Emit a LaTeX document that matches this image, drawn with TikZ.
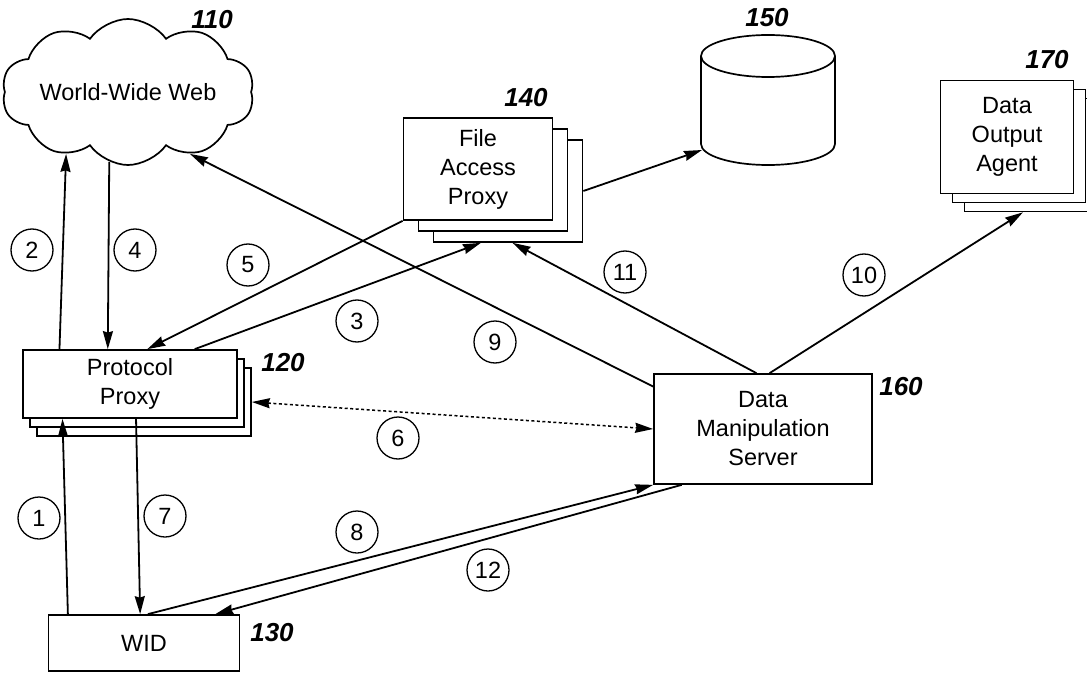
\documentclass[tikz,border=0pt]{standalone}
\usepackage{fontspec}
\setmainfont{Liberation Sans}
\usetikzlibrary{arrows.meta,calc,shadows,shapes.symbols}
\tikzset{%
  BoxStyle/.style={draw,fill=white,line width=1.7pt,align=center,inner sep=0pt},
  Stack/.style n args={4}{BoxStyle,
    copy shadow={shadow xshift=#3,shadow yshift=-#4,draw=black,fill=white,line width=1.7pt},
    copy shadow={shadow xshift=#1,shadow yshift=-#2,draw=black,fill=white,line width=1.7pt}},
  NumStyle/.style={draw,circle,line width=1.3pt,minimum size=42pt,inner sep=0pt},
  RefStyle/.style={font=\fontsize{26}{26}\selectfont\bfseries\itshape},
  Link/.style={line width=1.8pt,-{Stealth[length=18pt,width=10pt,inset=1.5pt]}},
  DotLink/.style={line width=1.5pt,dash pattern=on 3pt off 2.5pt,
    {Stealth[length=18pt,width=10pt,inset=1.5pt]}-{Stealth[length=18pt,width=10pt,inset=1.5pt]}}
}

\begin{document}
\begin{tikzpicture}[x=1pt,y=-1pt,font=\fontsize{23.5}{29}\selectfont]
\useasboundingbox (0,0) rectangle (1087,674);

\node (www) [cloud,draw,line width=1.7pt,cloud puffs=10,cloud puff arc=110,cloud ignores aspect,minimum width=238pt,minimum height=146pt] at (128,92) {World-Wide Web};
\node (pp) [Stack={7pt}{9pt}{14pt}{18pt},minimum width=214pt,minimum height=68pt] at (130,384) {Protocol\\Proxy};
\node (fap) [Stack={15pt}{11pt}{30pt}{22pt},minimum width=149pt,minimum height=102pt] at (478,169) {File\\Access\\Proxy};
\node (doa) [Stack={12pt}{9pt}{24pt}{18pt},minimum width=133pt,minimum height=113pt] at (1007,137) {Data\\Output\\Agent};
\node (dms) [BoxStyle,minimum width=218pt,minimum height=110pt] at (763,429) {Data\\Manipulation\\Server};
\node (wid) [BoxStyle,minimum width=191pt,minimum height=56pt] at (144,643) {WID};

% disk 150
\coordinate (db) at (768,100);
\coordinate (dbin) at (702,150);
\draw [line width=1.7pt] (701,56) -- (701,144) arc [start angle=180,end angle=360,x radius=67pt,y radius=21pt] -- (835,56);
\draw [line width=1.7pt] (768,56) ellipse [x radius=67pt,y radius=21pt];

\node (r110) [RefStyle] at (212,20) {110};
\node (r120) [RefStyle] at (283,363) {120};
\node (r130) [RefStyle] at (272,633) {130};
\node (r140) [RefStyle] at (526,98) {140};
\node (r150) [RefStyle] at (767,18) {150};
\node (r160) [RefStyle] at (901,387) {160};
\node (r170) [RefStyle] at (1047,60) {170};

\node (c1) [NumStyle] at (39,518) {1};
\node (c2) [NumStyle] at (32,250) {2};
\node (c3) [NumStyle] at (357,321) {3};
\node (c4) [NumStyle] at (135,250) {4};
\node (c5) [NumStyle] at (248,265) {5};
\node (c6) [NumStyle] at (398,438) {6};
\node (c7) [NumStyle] at (165,516) {7};
\node (c8) [NumStyle] at (357,532) {8};
\node (c9) [NumStyle] at (495,342) {9};
\node (c10) [NumStyle] at (864,275) {10};
\node (c11) [NumStyle] at (625,272) {11};
\node (c12) [NumStyle] at (488,570) {12};

\draw [Link] ($(wid.north west)!0.105!(wid.north east)$) -- ($(pp.south west)!0.187!(pp.south east)$);
\draw [Link] ($(pp.north west)!0.173!(pp.north east)$) -- (www.225);
\draw [Link] ($(pp.north west)!0.80!(pp.north east)$) -- ($(fap.south west)!0.32!(fap.south east)+(30pt,-22pt)$);
\draw [Link] (www.255) -- ($(pp.north west)!0.397!(pp.north east)$);
\draw [Link] (fap.south west) -- ($(pp.north west)!0.58!(pp.north east)$);
\draw [DotLink] ($(pp.east)+(14pt,-18pt)$) -- (dms.west);
\draw [Link] ($(pp.south west)!0.528!(pp.south east)$) -- ($(wid.north west)!0.48!(wid.north east)$);
\draw [Link] ($(wid.north west)!0.52!(wid.north east)$) -- (dms.south west);
\draw [Link] ($(dms.north west)!0.12!(dms.south west)$) -- (www.315);
\draw [Link] ($(dms.north west)!0.53!(dms.north east)$) -- ($(doa.south west)!0.44!(doa.south east)+(24pt,-18pt)$);
\draw [Link] ($(dms.north west)!0.47!(dms.north east)$) -- ($(fap.south west)!0.53!(fap.south east)+(30pt,-22pt)$);
\draw [Link] ($(dms.south west)!0.13!(dms.south east)$) -- ($(wid.north west)!0.87!(wid.north east)$);
\draw [Link] ($(fap.east)+(30pt,-22pt)$) -- (dbin);
\end{tikzpicture}
\end{document}
